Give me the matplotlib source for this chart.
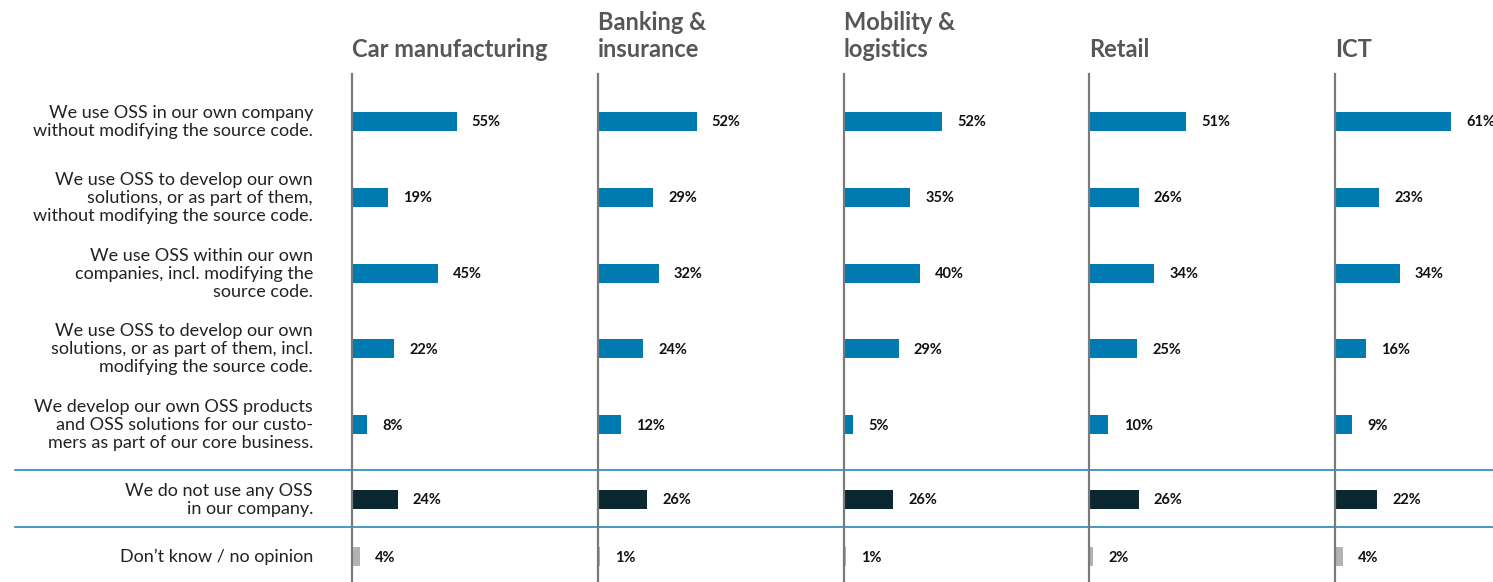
import matplotlib.pyplot as plt
from matplotlib.lines import Line2D

plt.rcParams['font.family'] = ['Lato', 'DejaVu Sans']

# Survey answers (share of respondents, %) per industry
industries = ['Car manufacturing', 'Banking &\ninsurance', 'Mobility &\nlogistics', 'Retail', 'ICT']
answers = [
    'We use OSS in our own company\nwithout modifying the source code.',
    'We use OSS to develop our own\nsolutions, or as part of them,\nwithout modifying the source code.',
    'We use OSS within our own\ncompanies, incl. modifying the\nsource code.',
    'We use OSS to develop our own\nsolutions, or as part of them, incl.\nmodifying the source code.',
    'We develop our own OSS products\nand OSS solutions for our custo-\nmers as part of our core business.',
    'We do not use any OSS\nin our company.',
    'Don\u2019t know / no opinion',
]
car = [55, 19, 45, 22, 8, 24, 4]
banking = [52, 29, 32, 24, 12, 26, 1]
mobility = [52, 35, 40, 29, 5, 26, 1]
retail = [51, 26, 34, 25, 10, 26, 2]
ict = [61, 23, 34, 16, 9, 22, 4]
values = [car, banking, mobility, retail, ict]

blue = '#007bb1'
dark = '#0b2730'
grey = '#b3b3b3'
bar_colors = [blue] * 5 + [dark, grey]

W, H = 1493, 582
fig = plt.figure(figsize=(W / 100, H / 100), dpi=100)

# row centres in pixel units from the top
rows = [121, 197, 273, 348, 424, 499, 556]
top, bottom = 74, 582

# background axes in pixel units for labels and separators
bg = fig.add_axes([0, 0, 1, 1])
bg.set_xlim(0, W)
bg.set_ylim(H, 0)
bg.axis('off')
for label, y in zip(answers, rows):
    bg.text(313, y + 1, label, ha='right', va='center', fontsize=13,
            color='#222222', linespacing=1.15)
for y in (470, 527):
    bg.add_line(Line2D([15, W], [y, y], color='#3a8fc2', lw=1.3))

x0 = 352
step = 245.8
panel_w = 240
scale = 1.9  # pixels per percent
for i, (name, vals) in enumerate(zip(industries, values)):
    left = x0 + i * step
    ax = fig.add_axes([left / W, 0, panel_w / W, (bottom - top) / H])
    ax.set_xlim(0, panel_w / scale)
    ax.set_ylim(bottom, top)
    ax.barh(rows, vals, height=19, color=bar_colors, zorder=2)
    for v, y in zip(vals, rows):
        ax.text(v + 8, y + 1.5, f'{v}%', ha='left', va='center', fontsize=10.5,
                fontweight='bold', color='#111111')
    for s in ('top', 'right', 'bottom'):
        ax.spines[s].set_visible(False)
    ax.spines['left'].set_color('#7a7a7a')
    ax.spines['left'].set_linewidth(1.6)
    ax.spines['left'].set_zorder(3)
    ax.set_xticks([])
    ax.set_yticks([])
    ax.patch.set_alpha(0)
    bg.text(left, 57, name, ha='left', va='baseline', fontsize=17,
            fontweight='bold', color='#575757', linespacing=1.2)

fig.savefig('out.png', dpi=100)
